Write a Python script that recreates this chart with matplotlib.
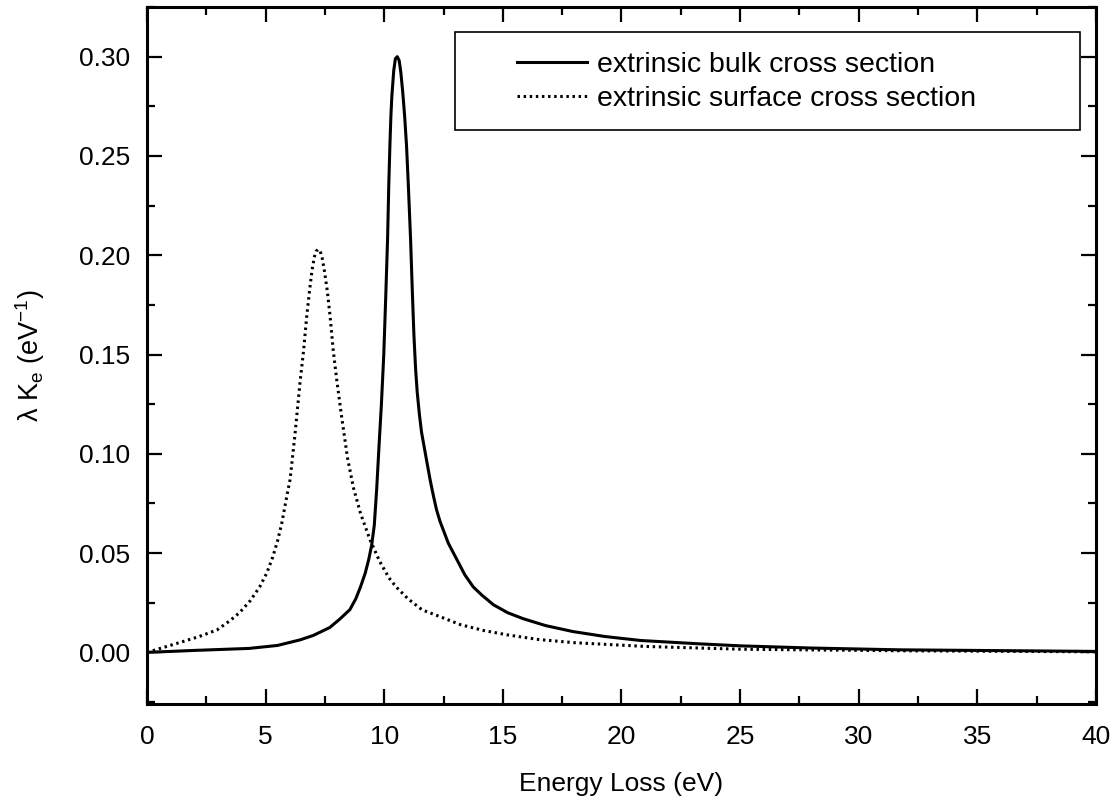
import matplotlib
matplotlib.use('Agg')
import matplotlib.pyplot as plt
from matplotlib.ticker import MultipleLocator
from matplotlib.patches import Rectangle

plt.rcParams['font.family'] = ['Liberation Sans', 'DejaVu Sans']
plt.rcParams['mathtext.fontset'] = 'custom'
plt.rcParams['mathtext.rm'] = 'Liberation Sans'
plt.rcParams['mathtext.it'] = 'Liberation Sans'

# values
bulk_E = [0.0, 2.0, 4.3, 5.5, 6.45, 7.0, 7.7, 8.1, 8.55, 8.8, 9.0, 9.2, 9.35, 9.47,
          9.58, 9.68, 9.78, 9.88, 9.98, 10.06, 10.14, 10.19, 10.24, 10.28, 10.32,
          10.4, 10.47, 10.55, 10.63, 10.7, 10.78, 10.86, 10.94, 11.02, 11.11, 11.18,
          11.25, 11.32, 11.39, 11.48, 11.57, 11.69, 11.81, 11.94, 12.07, 12.2, 12.35,
          12.7, 13.05, 13.4, 13.75, 14.1, 14.6, 15.2, 15.85, 16.8, 17.95, 19.3, 20.8,
          23.3, 25.0, 28.0, 31.7, 40.0]
bulk_K = [0.0, 0.001, 0.002, 0.0035, 0.0063, 0.0085, 0.0125, 0.0165, 0.0215, 0.027,
          0.033, 0.040, 0.047, 0.054, 0.064, 0.082, 0.104, 0.125, 0.150, 0.178,
          0.208, 0.235, 0.256, 0.270, 0.280, 0.293, 0.299, 0.300, 0.298, 0.292,
          0.282, 0.270, 0.255, 0.234, 0.208, 0.183, 0.160, 0.143, 0.131, 0.120,
          0.111, 0.103, 0.095, 0.0865, 0.079, 0.072, 0.066, 0.055, 0.047, 0.039,
          0.033, 0.029, 0.024, 0.020, 0.017, 0.0135, 0.0105, 0.008, 0.006, 0.0043,
          0.0033, 0.0022, 0.0013, 0.0005]

surf_E = [0.0, 1.5, 2.2, 2.95, 3.5, 3.9, 4.35, 4.75, 5.05, 5.3, 5.5, 5.68, 5.89,
          6.03, 6.24, 6.45, 6.6, 6.73, 6.85, 6.95, 7.05, 7.13, 7.22, 7.3, 7.38,
          7.48, 7.6, 7.72, 7.85, 8.0, 8.2, 8.45, 8.7, 9.0, 9.4, 9.8, 10.2, 10.5,
          11.0, 11.6, 12.35, 13.2, 14.2, 15.2, 16.5, 18.0, 21.0, 25.0, 32.0, 40.0]
surf_K = [0.0, 0.0054, 0.008, 0.0113, 0.016, 0.020, 0.026, 0.033, 0.040, 0.048,
          0.056, 0.065, 0.0785, 0.087, 0.110, 0.136, 0.152, 0.169, 0.182, 0.192,
          0.199, 0.202, 0.203, 0.202, 0.199, 0.192, 0.182, 0.169, 0.152, 0.137,
          0.119, 0.098, 0.083, 0.070, 0.0567, 0.046, 0.0375, 0.033, 0.027, 0.0214,
          0.018, 0.014, 0.011, 0.0088, 0.0065, 0.0049, 0.003, 0.0016, 0.0008, 0.0003]

x_ticks = [0, 5, 10, 15, 20, 25, 30, 35, 40]
y_ticks = [0.00, 0.05, 0.10, 0.15, 0.20, 0.25, 0.30]

fig = plt.figure(figsize=(11.17, 8.07), dpi=100)
ax = fig.add_axes([0.1316, 0.1276, 0.8496, 0.8637])

ax.plot(bulk_E, bulk_K, color='k', lw=2.2, label='extrinsic bulk cross section')
ax.plot(surf_E, surf_K, color='k', lw=2.2, linestyle=(0, (0.8, 1.2)),
        label='extrinsic surface cross section')

ax.set_xlim(0, 40)
ax.set_ylim(-0.026, 0.325)
ax.set_xticks(x_ticks)
ax.set_yticks(y_ticks)
ax.set_xticklabels([str(t) for t in x_ticks])
ax.set_yticklabels(['%.2f' % t for t in y_ticks])
ax.xaxis.set_minor_locator(MultipleLocator(2.5))
ax.yaxis.set_minor_locator(MultipleLocator(0.025))
ax.tick_params(which='both', direction='in', top=True, right=True, width=1.6,
               labelsize=19)
ax.tick_params(axis='x', which='major', pad=15)
ax.tick_params(axis='y', which='major', pad=12)
ax.tick_params(which='major', length=11)
ax.tick_params(which='minor', length=6)
for s in ax.spines.values():
    s.set_linewidth(2.2)

ax.set_xlabel('Energy Loss (eV)', fontsize=19, labelpad=17)
ax.set_ylabel(r'λ K$_{\mathrm{e}}$ (eV$^{\mathrm{-1}}$)', fontsize=19.5, labelpad=23)

# legend box drawn separately, Origin style with wide left padding
ax.add_patch(Rectangle((0.3245, 0.8235), 0.6585, 0.1405, transform=ax.transAxes,
                       fill=False, edgecolor='k', lw=1.2, zorder=4))
leg = ax.legend(loc='upper left', bbox_to_anchor=(0.39, 0.935), fontsize=20.5,
                frameon=False, handlelength=2.46, handletextpad=0.35,
                borderpad=0, labelspacing=0.26, borderaxespad=0)

fig.savefig('out.png', dpi=100)
